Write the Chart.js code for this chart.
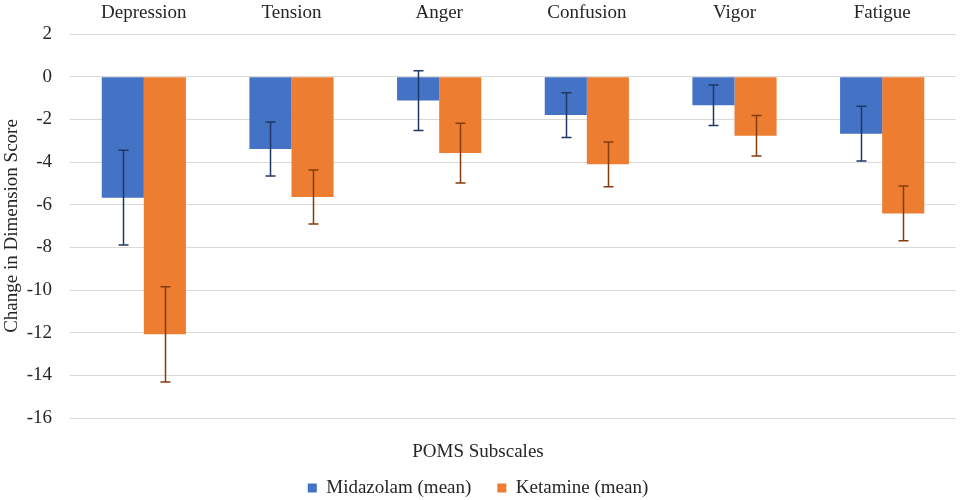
<!DOCTYPE html>
<html>
<head>
<meta charset="utf-8">
<script src="https://cdn.jsdelivr.net/npm/chart.js@4.4.1/dist/chart.umd.min.js"></script>
<style>
html,body{margin:0;padding:0;background:#fff;}
#wrap{width:960px;height:500px;}
</style>
</head>
<body>
<div id="wrap"><canvas id="c" width="960" height="500"></canvas></div>
<script>
const categories = ["Depression", "Tension", "Anger", "Confusion", "Vigor", "Fatigue"];
const midazolamMean = [-5.67, -3.39, -1.12, -1.80, -1.34, -2.67];
const midazolamErr  = [2.22, 1.27, 1.40, 1.05, 0.95, 1.28];
const ketamineMean  = [-12.08, -5.64, -3.58, -4.11, -2.77, -6.41];
const ketamineErr   = [2.23, 1.27, 1.40, 1.05, 0.95, 1.28];
const yTicks = [2, 0, -2, -4, -6, -8, -10, -12, -14, -16];

const FONT = "'Liberation Serif', 'Times New Roman', serif";
const TEXT = "#262626";

const errors = [midazolamErr, ketamineErr];
const errColors = ["#1f3864", "#843c0c"];

const errorBarPlugin = {
  id: 'errorBars',
  afterDatasetsDraw(chart) {
    const ctx = chart.ctx;
    const y = chart.scales.y;
    chart.data.datasets.forEach((ds, i) => {
      const meta = chart.getDatasetMeta(i);
      meta.data.forEach((bar, j) => {
        const v = ds.data[j], e = errors[i][j];
        const top = y.getPixelForValue(v + e);
        const bot = y.getPixelForValue(v - e);
        const x = Math.round(bar.x) + 0.5;
        ctx.save();
        ctx.strokeStyle = errColors[i];
        ctx.lineWidth = 1.5;
        ctx.beginPath();
        ctx.moveTo(x, top); ctx.lineTo(x, bot);
        ctx.moveTo(x - 5, top); ctx.lineTo(x + 5, top);
        ctx.moveTo(x - 5, bot); ctx.lineTo(x + 5, bot);
        ctx.stroke();
        ctx.restore();
      });
    });
  }
};

new Chart(document.getElementById('c'), {
  type: 'bar',
  data: {
    labels: categories,
    datasets: [
      { label: 'Midazolam (mean)', data: midazolamMean, backgroundColor: '#4472c4', borderWidth: 0 },
      { label: 'Ketamine (mean)', data: ketamineMean, backgroundColor: '#ed7d31', borderWidth: 0 }
    ]
  },
  options: {
    responsive: false,
    animation: false,
    devicePixelRatio: 1,
    layout: { padding: { left: 0, right: 4, top: 0, bottom: -7.5 } },
    datasets: { bar: { categoryPercentage: 0.57, barPercentage: 1.0 } },
    scales: {
      x: {
        position: 'top',
        grid: { display: false },
        border: { display: false },
        ticks: { color: TEXT, font: { family: FONT, size: 19 }, padding: 2, maxRotation: 0 },
        afterFit(scale) { scale.height = 34; }
      },
      y: {
        min: -16, max: 2,
        afterBuildTicks(scale) { scale.ticks = yTicks.map(v => ({ value: v })); },
        grid: { color: '#d9d9d9', lineWidth: 1, drawTicks: false },
        border: { display: false },
        ticks: { color: TEXT, font: { family: FONT, size: 19 }, padding: 18 },
        title: { display: true, text: 'Change in Dimension Score', color: TEXT, font: { family: FONT, size: 19 }, padding: { top: 1, bottom: 0 } },
        afterFit(scale) { scale.width = 70; }
      }
    },
    plugins: {
      title: { display: true, position: 'bottom', weight: 500, text: 'POMS Subscales', color: TEXT, font: { family: FONT, size: 19, weight: 'normal' }, padding: { top: 22.6, bottom: -10.9 } },
      legend: {
        position: 'bottom', weight: 1000,
        labels: { color: TEXT, font: { family: FONT, size: 19 }, boxWidth: 9, boxHeight: 9, padding: 26 }
      },
      tooltip: { enabled: false }
    }
  },
  plugins: [errorBarPlugin]
});
</script>
</body>
</html>
